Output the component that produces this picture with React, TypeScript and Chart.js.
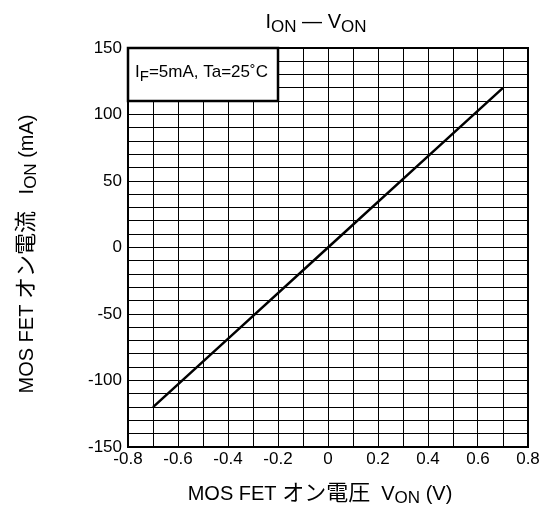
import React, { useEffect, useRef } from 'react';
import { Chart, registerables } from 'chart.js';

Chart.register(...registerables);

// ---- data ----
const vOn = [-0.7, -0.35, 0, 0.35, 0.7];
const iOn = [-120, -60, 0, 60, 120];
const xLabelTicks = [-0.8, -0.6, -0.4, -0.2, 0, 0.2, 0.4, 0.6, 0.8];
const yLabelTicks = [-150, -100, -50, 0, 50, 100, 150];

// [text, font size, baseline shift]
type Part = [string, number, number];
const titleParts: Part[] = [['I', 20, 0], ['ON', 17, 4], [' \u2014 ', 20, 0], ['V', 20, 0], ['ON', 17, 4]];
const legendParts: Part[] = [['I', 17, 0], ['F', 15, 4], ['=5mA, Ta=25\u02DAC', 17, 0]];
const xTitleParts: Part[] = [['MOS FET ', 20, 0], ['オン電圧', 22, 0], ['  V', 20, 0], ['ON', 17, 3], [' (V)', 20, 0]];
const yTitleParts: Part[] = [['MOS FET ', 20, 0], ['オン電流', 22, 0], ['   I', 20, 0], ['ON', 17, 3], [' (mA)', 20, 0]];

const FONT = '"Liberation Sans", Arial, "Noto Sans CJK JP", sans-serif';

function drawRich(
  ctx: CanvasRenderingContext2D,
  parts: Part[],
  x: number,
  y: number,
  align: 'left' | 'center',
  rotate: boolean
) {
  ctx.save();
  ctx.translate(x, y);
  if (rotate) ctx.rotate(-Math.PI / 2);
  ctx.textBaseline = 'alphabetic';
  ctx.textAlign = 'left';
  ctx.fillStyle = '#000';
  let total = 0;
  const widths = parts.map(([t, size]) => {
    ctx.font = `${size}px ${FONT}`;
    const w = ctx.measureText(t).width;
    total += w;
    return w;
  });
  let cx = align === 'center' ? -total / 2 : 0;
  parts.forEach(([t, size, shift], i) => {
    ctx.font = `${size}px ${FONT}`;
    ctx.fillText(t, cx, shift);
    cx += widths[i];
  });
  ctx.restore();
}

const textPlugin = {
  id: 'textPlugin',
  afterDraw(chart: any) {
    const ctx: CanvasRenderingContext2D = chart.ctx;
    const a = chart.chartArea;
    ctx.save();
    ctx.strokeStyle = '#000';
    ctx.lineWidth = 2;
    ctx.strokeRect(a.left, a.top, a.right - a.left, a.bottom - a.top);
    // legend box
    const bx = a.left;
    const by = a.top;
    const bw = 150;
    const bh = 53;
    ctx.fillStyle = '#fff';
    ctx.fillRect(bx, by, bw, bh);
    ctx.lineWidth = 2.5;
    ctx.strokeRect(bx, by, bw, bh);
    ctx.restore();
    drawRich(ctx, legendParts, bx + 7, by + 29, 'left', false);
    drawRich(ctx, titleParts, 316, 28, 'center', false);
    drawRich(ctx, xTitleParts, 320, 500, 'center', false);
    drawRich(ctx, yTitleParts, 33, 254, 'center', true);
  },
};

export default function App() {
  const ref = useRef<HTMLCanvasElement | null>(null);
  useEffect(() => {
    if (!ref.current) return;
    const tickFont = { family: FONT, size: 17 };
    const chart = new Chart(ref.current, {
      type: 'scatter',
      data: {
        datasets: [
          {
            data: vOn.map((v, i) => ({ x: v, y: iOn[i] })),
            showLine: true,
            borderColor: '#000',
            backgroundColor: '#000',
            borderWidth: 2.5,
            pointRadius: 0,
          },
        ],
      },
      options: {
        animation: false,
        responsive: false,
        devicePixelRatio: 1,
        layout: { padding: { left: 0, right: 18, top: 48, bottom: 0 } },
        plugins: { legend: { display: false }, tooltip: { enabled: false }, title: { display: false } },
        scales: {
          x: {
            type: 'linear',
            min: -0.8,
            max: 0.8,
            ticks: {
              stepSize: 0.1,
              autoSkip: false,
              maxRotation: 0,
              color: '#000',
              font: tickFont,
              padding: 2,
              callback: (v: any) => {
                const r = Math.round(Number(v) * 10) / 10;
                return xLabelTicks.some((t) => Math.abs(t - r) < 1e-6) ? String(r) : '';
              },
            },
            grid: { color: '#000', lineWidth: 1, drawTicks: false },
            border: { color: '#000', width: 2 },
            afterFit: (s: any) => {
              s.height = 68;
              s.paddingLeft = 0;
              s.paddingRight = 0;
            },
          },
          y: {
            type: 'linear',
            min: -150,
            max: 150,
            ticks: {
              stepSize: 10,
              autoSkip: false,
              color: '#000',
              font: tickFont,
              padding: 6,
              callback: (v: any) => {
                const r = Math.round(Number(v));
                return yLabelTicks.includes(r) ? String(r) : '';
              },
            },
            grid: { color: '#000', lineWidth: 1, drawTicks: false },
            border: { color: '#000', width: 2 },
            afterFit: (s: any) => {
              s.width = 128;
              s.paddingTop = 0;
              s.paddingBottom = 0;
            },
          },
        },
      },
      plugins: [textPlugin],
    } as any);
    return () => chart.destroy();
  }, []);
  return (
    <div style={{ position: 'fixed', left: 0, top: 0, width: 546, height: 515, background: '#fff' }}>
      <canvas ref={ref} width={546} height={515} style={{ display: 'block', width: 546, height: 515 }} />
    </div>
  );
}
